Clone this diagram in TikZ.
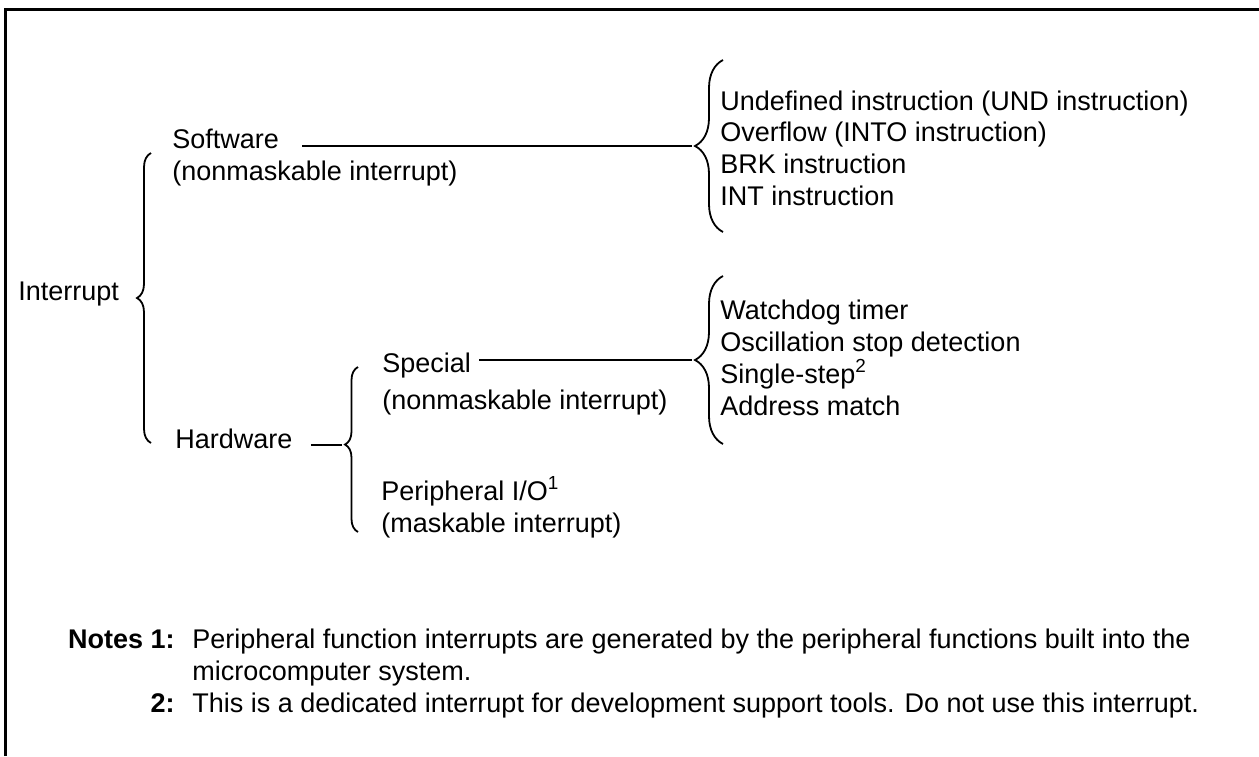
\documentclass[tikz,border=0pt]{standalone}
\usepackage{fontspec}
\setmainfont{Liberation Sans}
\usetikzlibrary{decorations.pathreplacing}

\begin{document}
\begin{tikzpicture}[x=0.5pt, y=-0.5pt,
          txt/.style={anchor=base west, inner sep=0pt, font=\fontsize{13.5}{16}\selectfont},
          bld/.style={txt, anchor=base east, font=\fontsize{13.5}{16}\selectfont\bfseries},
          brc/.style={decorate, decoration={brace, amplitude=#1}, line width=0.9pt},
          conn/.style={line width=1.3pt, shorten >=1.5pt}
        ]
        \useasboundingbox (0,0) rectangle (1259,756);
        % frame (cut off at right and bottom)
        \draw[line width=1.5pt] (5.5,756) -- (5.5,9.5) -- (1259,9.5);

        % tree
        \node[txt] (intr) at (18,300)  {Interrupt};
        \node[txt] (sw)   at (172,148) {Software};
        \node[txt] (swn)  at (172,180) {(nonmaskable interrupt)};
        \node[txt] (hw)   at (175,448) {Hardware};
        \node[txt] (sp)   at (382,372) {Special};
        \node[txt] (spn)  at (382,409) {(nonmaskable interrupt)};
        \node[txt] (pio)  at (381,500) {Peripheral I/O\textsuperscript{1}};
        \node[txt] (pion) at (381,532) {(maskable interrupt)};

        \node[txt] (und) at (720,110) {Undefined instruction (UND instruction)};
        \node[txt] (ovf) at (720,141) {Overflow (INTO instruction)};
        \node[txt] (brk) at (720,173) {BRK instruction};
        \node[txt] (ins) at (720,205) {INT instruction};
        \node[txt] (wdt) at (720,319) {Watchdog timer};
        \node[txt] (osc) at (720,351) {Oscillation stop detection};
        \node[txt] (sst) at (720,383) {Single-step\textsuperscript{2}};
        \node[txt] (adm) at (720,415) {Address match};

        % braces
        \draw[brc=7pt]    (151,443) -- (151,153);
        \draw[brc=14pt]   (723,232) -- (723,60);
        \draw[brc=14pt]   (723,444) -- (723,276);
        \draw[brc=6.5pt, decoration={aspect=0.53}] (358,532) -- (358,367);

        \coordinate (swtip) at (695,146);
        \coordinate (sptip) at (695,360);
        \coordinate (hwtip) at (345,445);

        \draw[conn, shorten <=11.5pt] (sw.east |- swtip) -- (swtip);
        \draw[conn, shorten <=4pt]    (sp.east |- sptip) -- (sptip);
        \draw[conn, shorten <=9pt]    (hw.east |- hwtip) -- (hwtip);

        % notes
        \node[bld] (n1)  at (175,648) {Notes 1:};
        \node[txt] (n1a) at (192,648) {Peripheral function interrupts are generated by the peripheral functions built into the};
        \node[txt] (n1b) at (192,680) {microcomputer system.};
        \node[bld] (n2)  at (175,712) {2:};
        \node[txt] (n2a) at (192,712) {This is a dedicated interrupt for development support tools. Do not use this interrupt.};
      \end{tikzpicture}
\end{document}
